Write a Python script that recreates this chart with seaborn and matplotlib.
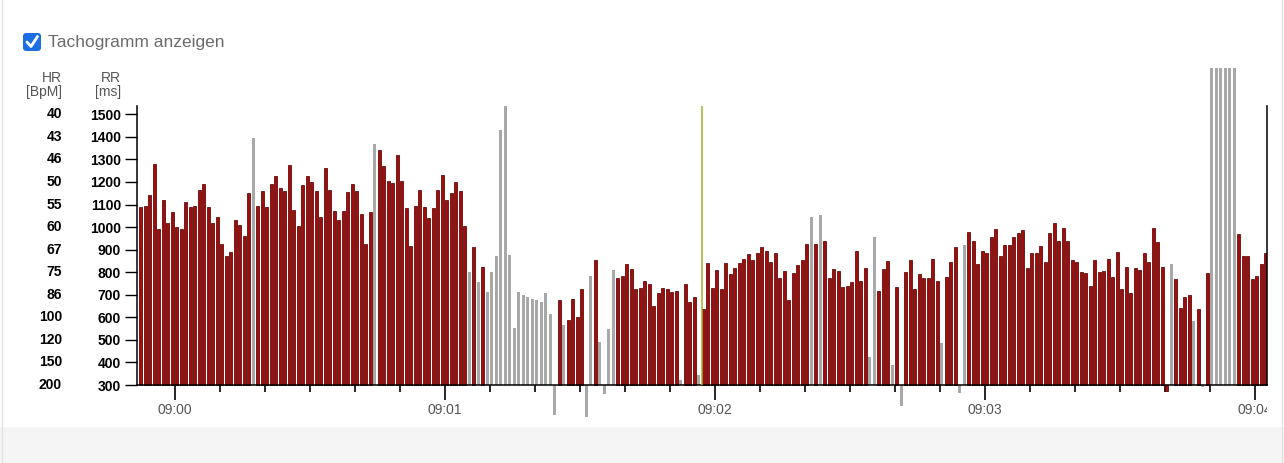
import numpy as np
import pandas as pd
import matplotlib
matplotlib.use("Agg")
import matplotlib.pyplot as plt
import seaborn as sns
from matplotlib.patches import Rectangle, FancyBboxPatch
from matplotlib.lines import Line2D
from matplotlib.transforms import IdentityTransform
from matplotlib.ticker import FixedLocator, MultipleLocator

# RR intervals (ms), one bar per beat
rr_ms = [
    1090, 1095, 1140, 1280, 990, 1120, 1020, 1065, 1000, 990,
    1110, 1090, 1095, 1165, 1190, 1090, 1020, 1045, 925, 870,
    890, 1030, 1010, 960, 1150, 1395, 1095, 1160, 1090, 1190,
    1225, 1175, 1160, 1275, 1075, 1005, 1185, 1225, 1200, 1160,
    1045, 1260, 1165, 1070, 1030, 1070, 1155, 1190, 1160, 1060,
    925, 1065, 1370, 1340, 1270, 1205, 1195, 1320, 1205, 1085, 915,
    1095, 1165, 1090, 1040, 1085, 1165, 1230, 1120, 1150, 1200,
    1160, 1005, 800, 910, 755, 825, 712, 800, 870, 1430,
    1535, 875, 555, 712, 700, 690, 680, 675, 670, 710, 615,
    167, 675, 565, 590, 680, 600, 725, 160, 785, 855,
    490, 260, 550, 810, 775, 785, 835, 815, 725, 730,
    760, 750, 650, 710, 730, 727, 711, 717, 322, 750,
    670, 690,
    343, 635, 840, 730, 810, 725, 840, 790, 820, 840,
    860, 880, 855, 885, 910, 895, 845, 885, 775, 805,
    675, 795, 830, 855, 925, 1045, 925, 1055, 940, 775,
    815,
    805, 735, 740, 755, 895, 760, 820, 425, 955, 715,
    815, 850, 390, 735, 205, 800, 855, 725, 790, 775,
    775, 860, 760, 485, 780, 845, 910, 265, 920, 980,
    940,
    835, 895, 885, 955, 990, 870, 920, 920, 955, 975,
    985, 820, 885, 885, 915, 845, 975, 1020, 940, 995,
    940, 855, 845, 800, 795, 740, 855, 800, 805, 860,
    780,
    890, 725, 825, 710, 820, 810, 885, 845, 995, 935,
    825, 272, 835, 770, 640, 690, 700, 585, 635, 292,
    795, 1850, 1850, 1850, 1850, 1850, 1850, 970, 870, 870,
    770, 785, 835, 885,
]
# beats flagged as artifacts (drawn grey)
artifact_beats = [25, 52, 73, 75] + list(range(77, 92)) + \
    [92, 94, 99, 100, 102, 103, 104, 105, 120, 124, 149, 151,
     162, 163, 167, 169, 178, 182, 183, 229, 234, 236] + list(range(238, 244))

first_beat_s = -7.6     # seconds relative to 09:00
beat_step_s = 1.0
cursor_s = 117.1

rr_ticks = [300, 400, 500, 600, 700, 800, 900, 1000, 1100, 1200, 1300, 1400, 1500]
hr_labels = ["200", "150", "120", "100", "86", "75", "67", "60", "55", "50", "46", "43", "40"]
time_ticks = [0, 60, 120, 180, 240]
time_labels = ["09:00", "09:01", "09:02", "09:03", "09:04"]
base_ms = 300

t = first_beat_s + np.arange(len(rr_ms)) * beat_step_s
df = pd.DataFrame({"t": t, "h": np.array(rr_ms) - base_ms})
df["kind"] = "beat"
df.loc[artifact_beats, "kind"] = "artifact"

sns.set_style("white")
plt.rcParams["font.family"] = ["Liberation Sans", "DejaVu Sans"]

W, H = 1284, 463
fig = plt.figure(figsize=(W / 100, H / 100), dpi=100)
fig.patch.set_facecolor("white")

# light footer band and panel borders
fig.add_artist(Rectangle((0, 0), W, H - 427, transform=IdentityTransform(),
                         facecolor="#f5f5f5", edgecolor="none", zorder=0))
fig.add_artist(Line2D([1.5, 1.5], [0, H], transform=IdentityTransform(), color="#e2e2e2", lw=1))
fig.add_artist(Line2D([W - 2.5, W - 2.5], [0, H], transform=IdentityTransform(), color="#e2e2e2", lw=1))

ax = fig.add_axes([137 / W, 1 - 425 / H, 1130 / W, (425 - 68) / H])
ax.set_facecolor("none")

sns.barplot(data=df[df["kind"] == "artifact"], x="t", y="h", native_scale=True,
            color="#a8a8a8", saturation=1, width=0.7, errorbar=None,
            linewidth=0, ax=ax)
sns.barplot(data=df[df["kind"] == "beat"], x="t", y="h", native_scale=True,
            color="#a00d0d", saturation=1, width=0.7, errorbar=None,
            edgecolor="#5a0000", linewidth=0.55, ax=ax)

ax.vlines(cursor_s, 0, 1237, color="#a4b22a", lw=1.1, zorder=5)

ax.set_xlim((137 - 175) / 4.5, (1267 - 175) / 4.5)
ax.set_ylim(-177, 1405)
ax.set_xlabel("")
ax.set_ylabel("")

ax.spines["top"].set_visible(False)
for s in ["left", "right"]:
    ax.spines[s].set_visible(True)
    ax.spines[s].set_color("black")
    ax.spines[s].set_linewidth(1.1)
    ax.spines[s].set_bounds(0, 1237)
ax.spines["bottom"].set_position(("data", 0))
ax.spines["bottom"].set_color("black")
ax.spines["bottom"].set_linewidth(1.1)

ax.yaxis.set_major_locator(FixedLocator([v - base_ms for v in rr_ticks]))
ax.set_yticklabels([str(v) for v in rr_ticks], fontsize=10, fontweight="bold")
ax.tick_params(axis="y", which="major", left=True, right=False, length=9,
               width=1, color="black", pad=2.5, labelcolor="black")

ax.xaxis.set_major_locator(FixedLocator(time_ticks))
ax.set_xticklabels(time_labels, fontsize=10, color="#555555")
ax.xaxis.set_minor_locator(MultipleLocator(10))
ax.tick_params(axis="x", which="major", bottom=True, length=11, width=1.2,
               color="black", pad=2)
ax.tick_params(axis="x", which="minor", bottom=True, length=5, width=1.2,
               color="black")

# HR column next to RR labels
for v, lab in zip(rr_ticks, hr_labels):
    ax.text((62 - 137) / 1130, v - base_ms, lab, transform=ax.get_yaxis_transform(),
            ha="right", va="center", fontsize=10, fontweight="bold", color="black")

# clip the last time label at the panel edge
clip = Rectangle((0, 0), 1267, H, transform=IdentityTransform())
last_label = ax.get_xticklabels()[-1]
last_label.set_clip_on(True)
last_label.set_clip_path(clip)

# column headers
fig.text(62 / W, 1 - 78 / H, "HR", ha="right", va="center", fontsize=10, color="#555555")
fig.text(62 / W, 1 - 92 / H, "[BpM]", ha="right", va="center", fontsize=10, color="#555555")
fig.text(121 / W, 1 - 78 / H, "RR", ha="right", va="center", fontsize=10, color="#555555")
fig.text(121 / W, 1 - 92 / H, "[ms]", ha="right", va="center", fontsize=10, color="#555555")

# checkbox
fig.add_artist(FancyBboxPatch((23, H - 51), 18, 18, boxstyle="round,pad=0,rounding_size=3",
                              transform=IdentityTransform(), facecolor="#1b6fe3",
                              edgecolor="none"))
fig.add_artist(Line2D([27, 31, 37.5], [H - 42, H - 46.5, H - 36.5], transform=IdentityTransform(),
                      color="white", lw=2.0, solid_capstyle="round", solid_joinstyle="round"))
fig.text(48 / W, 1 - 43 / H, "Tachogramm anzeigen", ha="left", va="center",
         fontsize=12.5, color="#6b6b6b")

fig.savefig("out.png", dpi=100)
plt.close("all")
